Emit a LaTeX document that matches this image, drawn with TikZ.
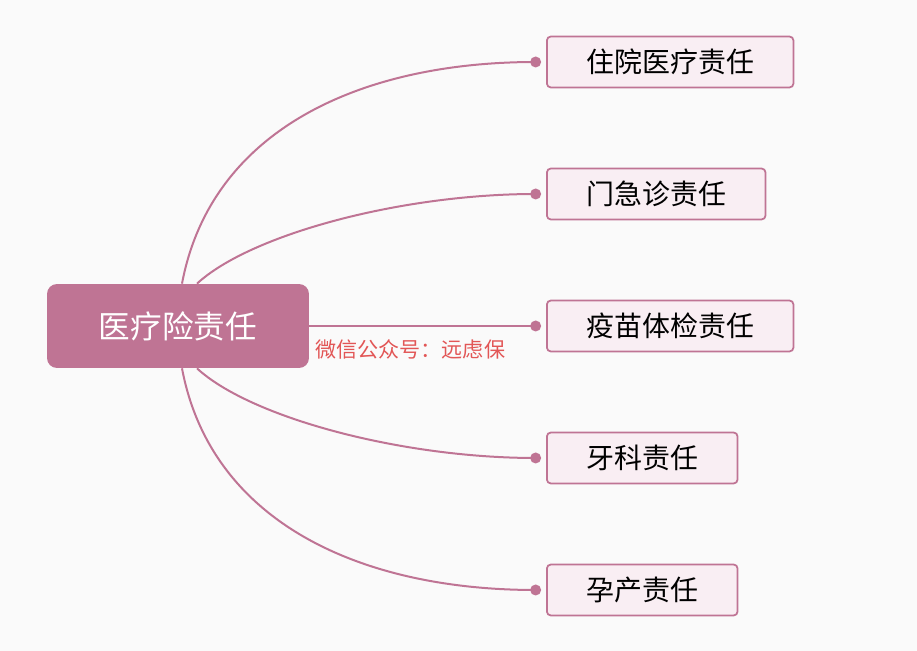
\documentclass[tikz,border=0pt]{standalone}
\usepackage{fontspec}
\setmainfont{Noto Sans CJK SC}
\usetikzlibrary{positioning}
\definecolor{mauve}{RGB}{191,116,148}
\definecolor{blush}{RGB}{249,238,243}
\definecolor{paper}{RGB}{250,250,250}
\definecolor{stamp}{RGB}{226,86,86}
\begin{document}
\begin{tikzpicture}[x=0.02cm,y=-0.02cm,
    rootbox/.style={fill=mauve,text=white,rounded corners=0.2cm,minimum width=5.24cm,minimum height=1.68cm,font=\fontsize{18}{18}\selectfont},
    leafbox/.style={draw=mauve,line width=0.035cm,fill=blush,rounded corners=0.08cm,minimum height=1.02cm,inner xsep=0.79cm,anchor=west,font=\fontsize{15.9}{16}\selectfont},
    knob/.style={circle,fill=mauve,inner sep=0pt,minimum size=0.22cm},
    link/.style={draw=mauve,line width=0.04cm}]
        \fill[paper] (0,0) rectangle (917,651);
        \node[rootbox] (root) at (178,326) {医疗险责任};
        \foreach \n/\t/\y in {c1/住院医疗责任/62,c2/门急诊责任/194,c3/疫苗体检责任/326,c4/牙科责任/458,c5/孕产责任/590}{
          \node[leafbox] (\n) at (546,\y) {\t};
          \node[knob,left=0.09cm of \n] (k\n) {};
        }
        \draw[link] ([xshift=0.08cm]root.north) .. controls ([shift={(33,-154)}]root.north) and ([xshift=-3.5cm]kc1.center) .. (kc1.center);
        \draw[link] ([xshift=0.38cm]root.north) .. controls ([shift={(72,-49)}]root.north) and ([xshift=-2.7cm]kc2.center) .. (kc2.center);
        \draw[link] (root.east) -- (kc3.center);
        \draw[link] ([xshift=0.38cm]root.south) .. controls ([shift={(72,49)}]root.south) and ([xshift=-2.7cm]kc4.center) .. (kc4.center);
        \draw[link] ([xshift=0.08cm]root.south) .. controls ([shift={(33,154)}]root.south) and ([xshift=-3.5cm]kc5.center) .. (kc5.center);
        \node[anchor=west,text=stamp,inner sep=0pt,font=\fontsize{12}{12}\selectfont] (mark) at (315,349) {微信公众号：远虑保};
      \end{tikzpicture}
\end{document}
